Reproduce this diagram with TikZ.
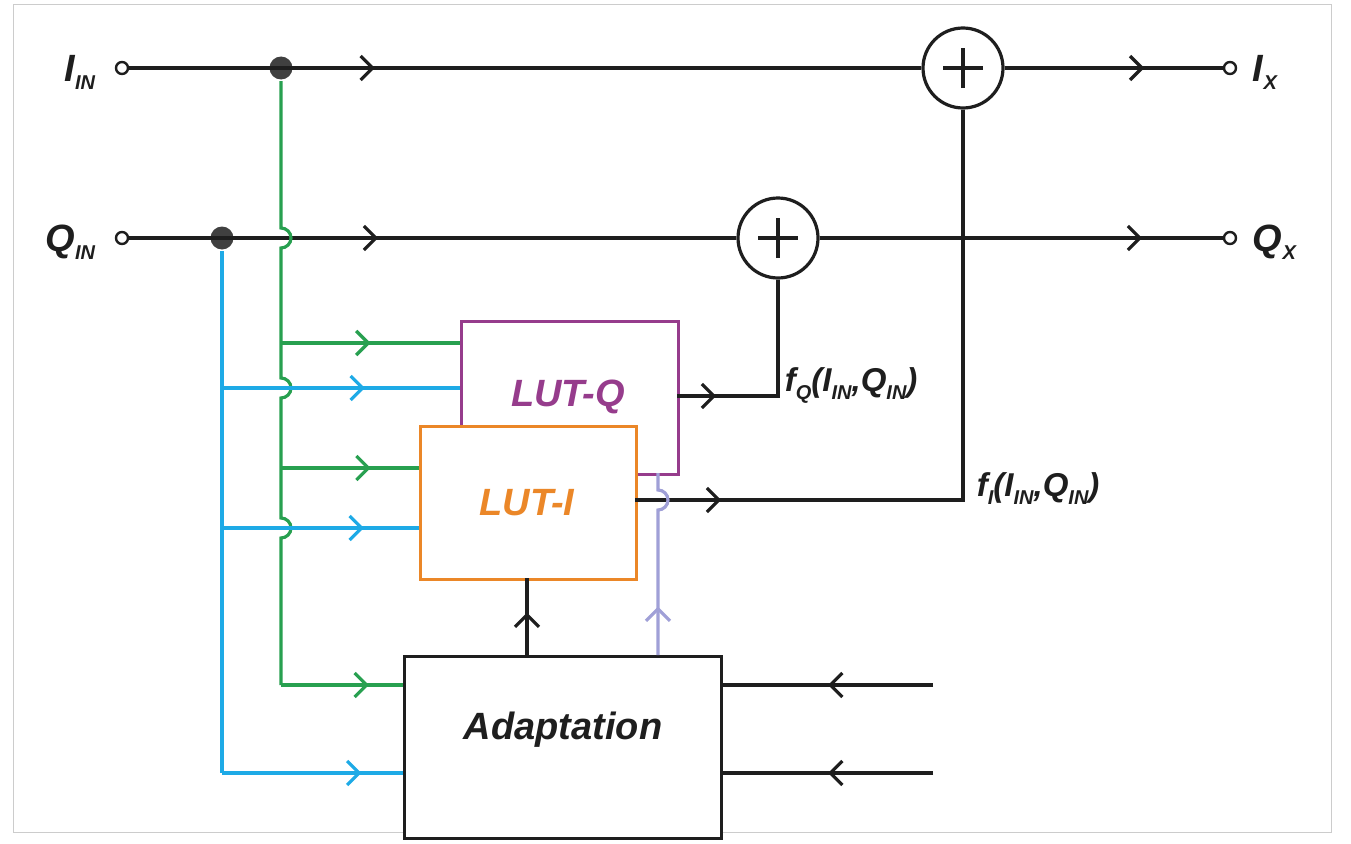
\documentclass[tikz,border=0pt]{standalone}
\usepackage{fontspec}
\setmainfont{Liberation Sans}
\usetikzlibrary{decorations.markings,arrows.meta}
\definecolor{gr}{RGB}{40,160,80}
\definecolor{bl}{RGB}{30,170,230}
\definecolor{pu}{RGB}{150,60,140}
\definecolor{orr}{RGB}{235,135,40}
\definecolor{lv}{RGB}{160,160,215}
\definecolor{ink}{RGB}{30,30,30}
\newcommand{\sbs}[1]{\raisebox{-8pt}{\fontsize{20}{20}\selectfont #1}}
\begin{document}
\begin{tikzpicture}[x=1pt,y=1pt,line width=3.2pt,
  ma/.style={decoration={markings,mark=at position #1 with {\arrow{Straight Barb[length=12pt,width=24pt,line width=3.2pt]}}},postaction=decorate},
  term/.style={circle,draw=ink,fill=white,line width=2.4pt,inner sep=0pt,minimum size=12pt},
  dot/.style={circle,fill=ink!85,inner sep=0pt,minimum size=23pt},
  sum/.style={circle,draw=ink,fill=white,line width=3.2pt,minimum size=80pt,inner sep=0pt},
  box/.style={draw,fill=white,line width=3.4pt,inner sep=0pt,anchor=north west},
  lbl/.style={font=\fontsize{38}{40}\selectfont\bfseries\itshape,text=ink},
  flbl/.style={font=\fontsize{33}{35}\selectfont\bfseries\itshape,text=ink,anchor=west}]
\useasboundingbox (0,0) rectangle (1351,-843);
\draw[gray!40,line width=1pt] (13,-5) rectangle (1331,-832);
% terminals
\node[term] (ti) at (122,-68) {};
\node[term] (tq) at (122,-238) {};
\node[term] (ox) at (1230,-68) {};
\node[term] (oq) at (1230,-238) {};
\node[lbl,anchor=east] at (100,-72) {I\sbs{IN}};
\node[lbl,anchor=east] at (100,-242) {Q\sbs{IN}};
\node[lbl,anchor=west] at (1248,-72) {I\sbs{X}};
\node[lbl,anchor=west] at (1248,-242) {Q\sbs{X}};
% sums
\node[sum] (si) at (963,-68) {};
\node[sum] (sq) at (778,-238) {};
\foreach \s in {si,sq}{\draw[ink] ([xshift=-20pt]\s.center) -- ([xshift=20pt]\s.center) ([yshift=-20pt]\s.center) -- ([yshift=20pt]\s.center);}
\node[dot] (di) at (281,-68) {};
\node[dot] (dq) at (222,-238) {};
% boxes
\node[box,draw=pu,minimum width=217pt,minimum height=153pt] (lq) at (460,-320) {};
\node[lbl,text=pu] at (568,-397) {LUT-Q};
\node[box,draw=orr,minimum width=216pt,minimum height=153pt] (li) at (419,-425) {};
\node[lbl,text=orr] at (527,-503) {LUT-I};
\node[box,draw=ink,minimum width=317pt,minimum height=182pt] (ad) at (403,-655) {};
\node[lbl] at (563,-730) {Adaptation};
% main lines
\draw[ink,ma=0.31] (ti) -- (si);
\draw[ink,ma=0.64] (si) -- (ox);
\draw[ink,ma=0.41] (tq) -- (sq);
\draw[ink,ma=0.8] (sq) -- (oq);
% green
\draw[gr] (di) -- (281,-228) arc(90:-90:10) -- (281,-378) arc(90:-90:10) -- (281,-518) arc(90:-90:10) -- (281,-685);
\coordinate (g1) at (281,-343); \coordinate (g2) at (281,-468); \coordinate (g3) at (281,-685);
\draw[gr,ma=0.5] (g1) -- (lq.west|-g1);
\draw[gr,ma=0.65] (g2) -- (li.west|-g2);
\draw[gr,ma=0.72] (g3) -- (ad.west|-g3);
% blue
\draw[bl] (dq) -- (222,-773);
\coordinate (b1) at (222,-388); \coordinate (b2) at (222,-528); \coordinate (b3) at (222,-773);
\draw[bl,ma=0.6] (b1) -- (lq.west|-b1);
\draw[bl,ma=0.72] (b2) -- (li.west|-b2);
\draw[bl,ma=0.77] (b3) -- (ad.west|-b3);
% outputs
\coordinate (qo) at (677,-396);
\draw[ink,ma=0.18] (qo) -- (778,-396) -- (sq.south);
\coordinate (io) at (635,-500);
\draw[ink,ma=0.12] (io) -- (963,-500) -- (si.south);
\node[flbl] at (780,-385) {f\sbs{Q}(I\sbs{IN},Q\sbs{IN})};
\node[flbl] at (972,-489) {f\sbs{I}(I\sbs{IN},Q\sbs{IN})};
% adaptation to LUTs
\coordinate (a1) at (527,-655); \coordinate (a2) at (527,-578);
\draw[ink,ma=0.55] (a1) -- (a2);
\coordinate (p1) at (658,-655); \coordinate (p2) at (658,-473);
\draw[lv,ma=0.25] (p1) -- (658,-510) arc(-90:90:10) -- (p2);
% right inputs
\coordinate (r1) at (933,-685); \coordinate (r2) at (933,-773);
\draw[ink,ma=0.5] (r1) -- (ad.east|-r1);
\draw[ink,ma=0.5] (r2) -- (ad.east|-r2);
\end{tikzpicture}
\end{document}
